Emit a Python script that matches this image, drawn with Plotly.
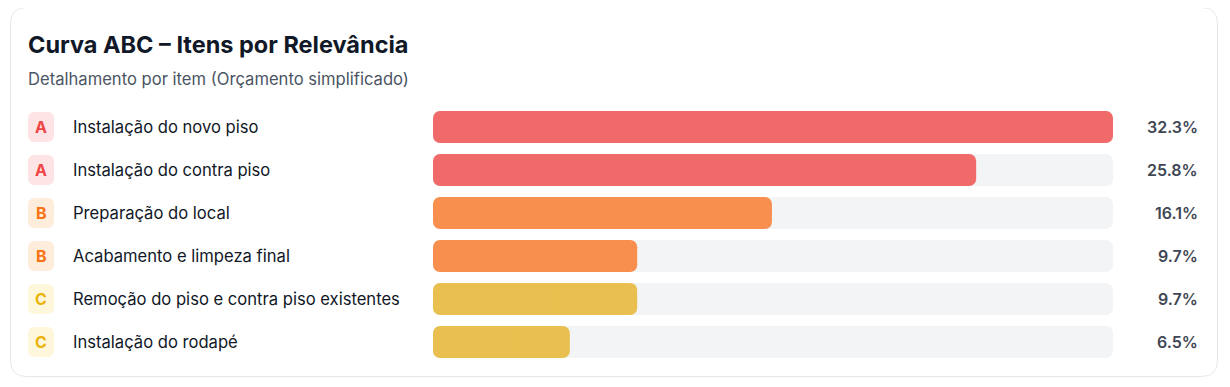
import plotly.graph_objects as go

W, H = 1230, 387
OFF = 8  # page body margin

items = [
    "Instalação do novo piso",
    "Instalação do contra piso",
    "Preparação do local",
    "Acabamento e limpeza final",
    "Remoção do piso e contra piso existentes",
    "Instalação do rodapé",
]
classes = ["A", "A", "B", "B", "C", "C"]
shares = [32.3, 25.8, 16.1, 9.7, 9.7, 6.5]

bar_color = {"A": "#f06a6a", "B": "#f88f4f", "C": "#e9c04f"}
class_color = {"A": "#ef4444", "B": "#f97316", "C": "#eab308"}
class_bg = {"A": "#fee4e4", "B": "#ffeddc", "C": "#fef7dc"}

FONT = "Inter, 'Noto Sans', sans-serif"

def px_x(x):
    return (x - OFF) / W

def px_y(y):
    return (H - (y - OFF)) / H

max_share = max(shares)
BW = 0.744
CR = 7

fig = go.Figure()

def rounded_bars(values, colors, width, xaxis="x", hover=False, cr=CR, ov=0.4):
    # right part (rounded at the value end) and left part (rounded at zero), overlapping
    fig.add_trace(go.Bar(
        y=items, x=[v * (1 - ov) for v in values], base=[v * ov for v in values],
        orientation="h", xaxis=xaxis,
        marker=dict(color=colors, cornerradius=cr, line=dict(width=0)),
        width=width, showlegend=False,
        customdata=values,
        hovertemplate="%{y}: %{customdata:.1f}%<extra></extra>" if hover else None,
        hoverinfo=None if hover else "skip",
    ))
    fig.add_trace(go.Bar(
        y=items, x=[-v * (1 - ov) for v in values], base=[v * (1 - ov) for v in values],
        orientation="h", xaxis=xaxis,
        marker=dict(color=colors, cornerradius=cr, line=dict(width=0)),
        width=width, showlegend=False, hoverinfo="skip",
    ))

rounded_bars([max_share] * len(items), "#f3f4f6", BW)
rounded_bars(shares, [bar_color[c] for c in classes], BW, hover=True)
# badges
rounded_bars([1] * len(items), [class_bg[c] for c in classes], 0.70, xaxis="x2", cr=6, ov=0.15)

annotations = [
    dict(text="Curva ABC – Itens por Relevância", xref="paper", yref="paper",
         x=px_x(26), y=px_y(44), xanchor="left", yanchor="middle", showarrow=False,
         font=dict(family=FONT, size=23.5, color="#111827", weight=700)),
    dict(text="Detalhamento por item (Orçamento simplificado)", xref="paper", yref="paper",
         x=px_x(26), y=px_y(78.5), xanchor="left", yanchor="middle", showarrow=False,
         font=dict(family=FONT, size=16.6, color="#4b5563")),
]
for name, c, v in zip(items, classes, shares):
    annotations.append(dict(text=c, xref="x2", yref="y", x=0.5, y=name,
                            xanchor="center", yanchor="middle", showarrow=False,
                            font=dict(family=FONT, size=16, color=class_color[c], weight=700)))
    annotations.append(dict(text=name, xref="paper", yref="y", x=px_x(71), y=name,
                            xanchor="left", yanchor="middle", showarrow=False,
                            font=dict(family=FONT, size=16.6, color="#111827")))
    annotations.append(dict(text=f"{v:.1f}%", xref="paper", yref="y", x=px_x(1200), y=name,
                            xanchor="right", yanchor="middle", showarrow=False,
                            font=dict(family=FONT, size=16, color="#3f4654", weight=600)))

# card outline (rounded rectangle)
x0, y0, x1, y1, r = px_x(10.5), px_y(376.5), px_x(1217.5), px_y(7.5), 16
rx, ry = r / W, r / H
card_path = (
    f"M {x0+rx},{y0} L {x1-rx},{y0} Q {x1},{y0} {x1},{y0+ry} "
    f"L {x1},{y1-ry} Q {x1},{y1} {x1-rx},{y1} L {x0+rx},{y1} "
    f"Q {x0},{y1} {x0},{y1-ry} L {x0},{y0+ry} Q {x0},{y0} {x0+rx},{y0} Z"
)

fig.update_layout(
    width=W, height=H,
    margin=dict(l=0, r=0, t=0, b=0),
    paper_bgcolor="white", plot_bgcolor="rgba(0,0,0,0)",
    barmode="overlay",
    font=dict(family=FONT),
    xaxis=dict(domain=[px_x(433), px_x(1113)], range=[0, max_share], visible=False,
               fixedrange=True),
    xaxis2=dict(domain=[px_x(28), px_x(54)], range=[0, 1], visible=False,
                anchor="y", fixedrange=True),
    yaxis=dict(domain=[px_y(363.5), px_y(105.5)], range=[5.5, -0.5], visible=False,
               fixedrange=True),
    annotations=annotations,
    shapes=[dict(type="path", path=card_path, xref="paper", yref="paper",
                 line=dict(color="#e5e7eb", width=1), fillcolor="rgba(0,0,0,0)",
                 layer="below")],
)

fig.write_html("out.html", config={"displayModeBar": False})
